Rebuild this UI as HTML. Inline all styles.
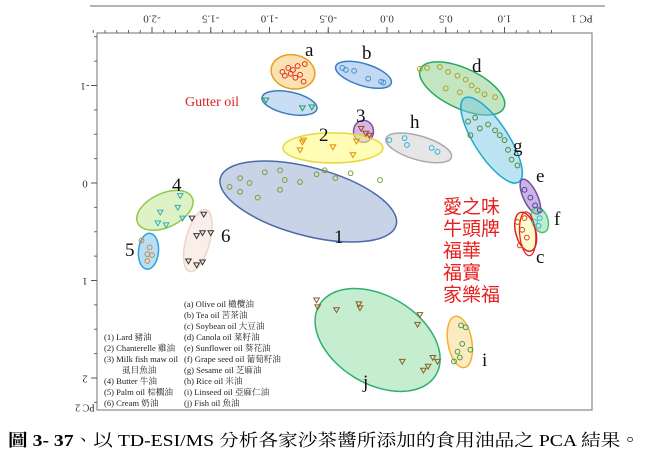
<!DOCTYPE html>
<html><head><meta charset="utf-8">
<style>
html,body{margin:0;padding:0;background:#fff;}
svg{display:block;font-family:"Liberation Serif","Noto Serif CJK SC",serif;}
</style></head>
<body>
<svg id="chart" width="650" height="458" viewBox="0 0 650 458" xmlns="http://www.w3.org/2000/svg">
<line x1="90" y1="6" x2="605" y2="6" stroke="#888" stroke-width="1.2"/>
<rect x="97" y="33" width="495" height="377" fill="#fff" stroke="#888" stroke-width="1.2"/>
<g id="axes"></g>
<g id="ellipses"></g>
<g id="points"></g>
<g id="labels" font-size="19" fill="#111"></g>
<text x="185" y="106" fill="#e02020" font-size="14">Gutter oil</text>
<g fill="#e82020" font-size="19" font-family="'Noto Sans CJK TC',sans-serif">
<text x="443" y="213">愛之味</text><text x="443" y="235">牛頭牌</text><text x="443" y="257">福華</text><text x="443" y="279">福寶</text><text x="443" y="301">家樂福</text>
</g>
<g font-size="8.6" fill="#222" font-family="'Liberation Serif','Noto Serif CJK TC',serif">
<text x="184" y="307">(a)  Olive oil 橄欖油</text>
<text x="184" y="318">(b)  Tea oil 苦茶油</text>
<text x="184" y="329">(c)  Soybean oil 大豆油</text>
<text x="184" y="340">(d)  Canola oil 菜籽油</text>
<text x="184" y="351">(e)  Sunflower oil 葵花油</text>
<text x="184" y="362">(f)  Grape seed oil 葡萄籽油</text>
<text x="184" y="373">(g)  Sesame oil 芝麻油</text>
<text x="184" y="384">(h)  Rice oil 米油</text>
<text x="184" y="395">(i)  Linseed oil 亞麻仁油</text>
<text x="184" y="406">(j)  Fish oil 魚油</text>
<text x="104" y="340">(1)  Lard 豬油</text>
<text x="104" y="351">(2)  Chanterelle 雞油</text>
<text x="104" y="362">(3)  Milk fish maw oil</text>
<text x="122" y="373">虱目魚油</text>
<text x="104" y="384">(4)  Butter 牛油</text>
<text x="104" y="395">(5)  Palm oil 棕櫚油</text>
<text x="104" y="406">(6)  Cream 奶油</text>
</g>
<text x="8" y="446" font-size="17" font-family="'Liberation Serif','Noto Serif CJK TC',serif" textLength="632" lengthAdjust="spacingAndGlyphs"><tspan font-weight="bold">圖 3- 37</tspan>、以 TD-ESI/MS 分析各家沙茶醬所添加的食用油品之 PCA 結果。</text>
</svg>
<script>
const NS="http://www.w3.org/2000/svg";
const xTicks=[-2.0,-1.5,-1.0,-0.5,0.0,0.5,1.0];
const xTickLabels=["-2.0","-1.5","-1.0","-0.5","0.0","0.5","1.0"];
const yTicks=[-1,0,1,2];
const yTickLabels=["-1","0","1","2"];
const groupIds=["a","b","gutter","d","3","h","2","g","1","e","4","6","5","f","c","j","i"];
const ellCX=[-0.80,-0.20,-0.83,0.64,-0.20,0.27,-0.46,0.89,-0.67,1.22,-1.89,-1.61,-2.03,1.30,1.18,-0.08,0.62];
const ellCY=[-1.14,-1.11,-0.82,-0.97,-0.53,-0.36,-0.36,-0.44,0.19,0.14,0.28,0.59,0.70,0.38,0.50,1.61,1.63];
const groupX={
 a:[-0.89,-0.84,-0.80,-0.76,-0.74,-0.78,-0.71,-0.70,-0.87,-0.82],
 b:[-0.38,-0.35,-0.28,-0.16,-0.05,-0.03],
 gutter:[-1.03,-0.72,-0.64],
 d:[0.28,0.34,0.45,0.52,0.60,0.67,0.72,0.77,0.83,0.92,0.50,0.62],
 "3":[-0.22,-0.18,-0.15],
 h:[0.02,0.15,0.17,0.38,0.43],
 "2":[-0.74,-0.72,-0.71,-0.46,-0.29,-0.26],
 g:[0.69,0.75,0.79,0.86,0.92,0.96,1.0,1.03,1.06,1.11,0.71],
 "1":[-1.34,-1.25,-1.17,-1.04,-0.91,-0.87,-0.74,-0.60,-0.53,-0.44,-0.31,-1.10,-0.91,-0.06,-1.25],
 e:[1.17,1.22,1.26,1.30],
 "4":[-1.76,-1.78,-1.93,-1.95,-1.88,-1.74],
 "6":[-1.66,-1.56,-1.62,-1.57,-1.50,-1.69,-1.62,-1.57],
 "5":[-2.09,-2.02,-2.04,-2.00,-2.04],
 f:[1.26,1.30,1.29],
 c:[1.11,1.15,1.19,1.13,1.17],
 j:[-0.60,-0.59,-0.43,-0.24,-0.23,0.28,0.26,0.13,0.35,0.39,0.43,0.31],
 i:[0.63,0.67,0.64,0.60,0.62,0.71,0.57]};
const groupY={
 a:[-1.14,-1.18,-1.16,-1.20,-1.11,-1.08,-1.04,-1.22,-1.10,-1.12],
 b:[-1.18,-1.16,-1.15,-1.07,-1.04,-1.03],
 gutter:[-0.85,-0.77,-0.78],
 d:[-1.17,-1.18,-1.19,-1.14,-1.10,-1.06,-1.00,-0.95,-0.91,-0.88,-0.97,-0.93],
 "3":[-0.56,-0.51,-0.49],
 h:[-0.44,-0.46,-0.39,-0.36,-0.32],
 "2":[-0.34,-0.42,-0.44,-0.37,-0.29,-0.43],
 g:[-0.63,-0.67,-0.56,-0.60,-0.54,-0.49,-0.44,-0.34,-0.24,-0.18,-0.49],
 "1":[0.04,-0.05,0,-0.11,-0.13,-0.03,-0.01,-0.09,-0.13,-0.05,-0.10,0.15,0.07,-0.03,0.09],
 e:[0.07,0.15,0.23,0.28],
 "4":[0.13,0.25,0.30,0.41,0.43,0.36],
 "6":[0.36,0.32,0.54,0.51,0.51,0.80,0.84,0.81],
 "5":[0.59,0.66,0.73,0.74,0.80],
 f:[0.40,0.36,0.44],
 c:[0.40,0.48,0.56,0.64,0.36],
 j:[1.20,1.27,1.30,1.24,1.28,1.35,1.45,1.83,1.88,1.79,1.83,1.92],
 i:[1.46,1.48,1.65,1.73,1.79,1.71,1.83]};
const ST={
 a:{rx:22,ry:17,rot:10,f:"rgba(245,200,100,.5)",s:"#e8a020",pc:"#e03020",m:"o",lx:305,ly:56},
 b:{rx:29,ry:11,rot:17,f:"rgba(120,170,230,.45)",s:"#3b7dc4",pc:"#4a90d0",m:"o",lx:362,ly:59},
 gutter:{rx:28,ry:11,rot:12,f:"rgba(120,170,230,.4)",s:"#3b7dc4",pc:"#20a060",m:"t"},
 d:{rx:46,ry:20,rot:25,f:"rgba(120,200,120,.45)",s:"#2aa860",pc:"#b0a020",m:"o",lx:472,ly:72},
 "3":{rx:10,ry:11,rot:0,f:"rgba(180,140,210,.6)",s:"#8050a0",pc:"#b04020",m:"t",lx:356,ly:122},
 h:{rx:34,ry:12,rot:16,f:"rgba(205,205,205,.5)",s:"#aaa",pc:"#30b8d8",m:"o",lx:410,ly:128},
 "2":{rx:50,ry:15,rot:0,f:"rgba(255,250,120,.55)",s:"#e8d840",pc:"#e09010",m:"t",lx:319,ly:141},
 g:{rx:50,ry:17,rot:57,f:"rgba(120,200,230,.5)",s:"#20a8d0",pc:"#508a30",m:"o",lx:513,ly:152},
 "1":{rx:91,ry:34,rot:15,f:"rgba(120,145,195,.4)",s:"#4a6aa8",pc:"#7aa030",m:"o",lx:334,ly:243},
 e:{rx:19,ry:7,rot:65,f:"rgba(170,130,210,.6)",s:"#7050a0",pc:"#5040a0",m:"o",lx:536,ly:182},
 "4":{rx:30,ry:17,rot:-25,f:"rgba(190,230,140,.5)",s:"#90c850",pc:"#30b0c0",m:"t",lx:172,ly:191},
 "6":{rx:32,ry:12,rot:-75,f:"rgba(245,222,212,.5)",s:"#f0d4c4",pc:"#333",m:"t",lx:221,ly:242},
 "5":{rx:18,ry:10,rot:-85,f:"rgba(120,190,240,.5)",s:"#30a0e0",pc:"#c09040",m:"o",lx:125,ly:256},
 f:{rx:13,ry:8,rot:70,f:"rgba(130,220,160,.5)",s:"#50c080",pc:"#30b8d0",m:"o",lx:554,ly:225},
 c:{rx:20,ry:10,rot:75,f:"rgba(255,240,120,.35)",s:"#e02020",pc:"#e04020",m:"o",lx:536,ly:263},
 j:{rx:68,ry:44,rot:31,f:"rgba(140,220,160,.5)",s:"#30b070",pc:"#8a6020",m:"t",lx:363,ly:388},
 i:{rx:26,ry:12,rot:80,f:"rgba(250,215,130,.5)",s:"#f0b030",pc:"#40a040",m:"o",lx:482,ly:366}};
const X=v=>387+v*117.5, Y=v=>183+v*97.5;
function mk(tag,attrs,parent){const e=document.createElementNS(NS,tag);for(const k in attrs)e.setAttribute(k,attrs[k]);parent.appendChild(e);return e;}
const axes=document.getElementById('axes');
for(let v=-2.5;v<=1.45;v+=0.1){const t=mk('line',{x1:X(v),x2:X(v),y1:33,y2:30,stroke:'#666'},axes);

}
xTicks.forEach((v,i)=>{const t=mk('line',{x1:X(v),x2:X(v),y1:33,y2:27,stroke:'#555'},axes);


const l=mk('text',{x:X(v),y:18,'font-size':11,'text-anchor':'middle',transform:`rotate(180 ${X(v)} 18)`,fill:'#333','dominant-baseline':'middle'},axes);l.textContent=xTickLabels[i];

});
const pc1=mk('text',{x:582,y:18,'font-size':11,'text-anchor':'middle',transform:'rotate(180 582 18)',fill:'#333','dominant-baseline':'middle'},axes);pc1.textContent='PC 1';


for(let v=-1.5;v<=2.3;v+=0.25){const t=mk('line',{x1:94,x2:97,y1:Y(v),y2:Y(v),stroke:'#666'},axes);

}
yTicks.forEach((v,i)=>{const t=mk('line',{x1:91,x2:97,y1:Y(v),y2:Y(v),stroke:'#555'},axes);


const l=mk('text',{x:85,y:Y(v),'font-size':11,'text-anchor':'middle',transform:`rotate(180 85 ${Y(v)})`,fill:'#333','dominant-baseline':'middle'},axes);l.textContent=yTickLabels[i];

});
const pc2=mk('text',{x:85,y:407,'font-size':10,'text-anchor':'middle',transform:'rotate(180 85 407)',fill:'#333','dominant-baseline':'middle'},axes);pc2.textContent='PC 2';


const eg=document.getElementById('ellipses'),pg=document.getElementById('points'),lg=document.getElementById('labels');
groupIds.forEach((id,gi)=>{const s=ST[id];const cx=X(ellCX[gi]),cy=Y(ellCY[gi]);
 const e=mk('ellipse',{cx:cx,cy:cy,rx:s.rx,ry:s.ry,transform:`rotate(${s.rot} ${cx} ${cy})`,fill:s.f,stroke:s.s,'stroke-width':1.5},eg);
 
 
 if(id==='c'){const e2=mk('ellipse',{cx:cx+2,cy:cy+2,rx:22,ry:8,transform:`rotate(85 ${cx+2} ${cy+2})`,fill:'none',stroke:'#e02020','stroke-width':1.2},eg);
  
  }
 groupX[id].forEach((xv,k)=>{const px=X(xv),py=Y(groupY[id][k]);let p;
  if(s.m==='o')p=mk('circle',{cx:px,cy:py,r:2.4,fill:'none',stroke:s.pc,'stroke-width':1},pg);
  else p=mk('path',{d:`M${px-2.8},${py-2} L${px+2.8},${py-2} L${px},${py+2.8}Z`,fill:'none',stroke:s.pc,'stroke-width':1},pg);
  
  });
 if(s.lx){const t=mk('text',{x:s.lx,y:s.ly},lg);t.textContent=id;
  
  }
});
</script>
</body></html>
